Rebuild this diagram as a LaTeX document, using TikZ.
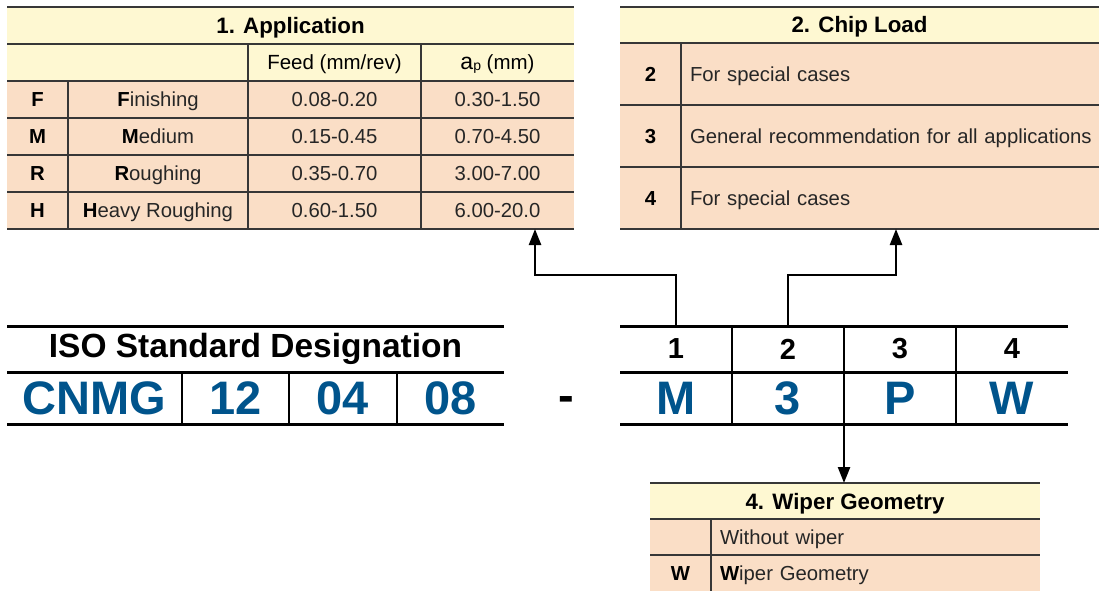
\documentclass[tikz,border=0pt]{standalone}
\usepackage{fontspec}
\setmainfont{Liberation Sans}
\usetikzlibrary{positioning,arrows.meta}
\definecolor{headyellow}{RGB}{254,248,210}
\definecolor{bodypeach}{RGB}{250,222,198}
\definecolor{isoblue}{RGB}{0,84,140}
\definecolor{rulegray}{RGB}{55,55,55}

\begin{document}
\begin{tikzpicture}[
	x=1pt, y=-1pt,
	every node/.style={inner sep=0pt, outer sep=0pt, text=black!85},
	headcell/.style={fill=headyellow, minimum height=37pt, text height=16pt, text depth=0pt, font=\fontsize{22.3}{22.3}\selectfont\bfseries, text=black},
	bodycell/.style={fill=bodypeach, minimum height=37pt, text height=14.6pt, text depth=0pt, font=\fontsize{20.3}{20.3}\selectfont},
	codecell/.style={bodycell, minimum width=61pt, font=\fontsize{20.3}{20.3}\selectfont\bfseries, text=black},
	textcell/.style={bodycell, align=left, inner xsep=9pt, text width=#1},
	gridline/.style={draw=rulegray, line width=1.3pt},
	isohead/.style={minimum height=46pt, font=\fontsize{29}{29}\selectfont\bfseries, text=black},
	isocell/.style={minimum height=52pt, font=\fontsize{47}{47}\selectfont\bfseries, text=isoblue},
	isoline/.style={line width=3pt},
	isodivider/.style={line width=2pt},
	conn/.style={line width=2.4pt, -{Triangle[length=16pt, width=12pt]}}
	]
	\useasboundingbox (0,0) rectangle (1099,591);
	
	\node[headcell, minimum width=567pt, anchor=north west] (apptitle) at (7,7) {1. Application};
	\node[headcell, minimum width=241pt, anchor=north west] (appblank) at (7,44) {};
	\node[headcell, minimum width=173pt, right=0pt of appblank, font=\fontsize{20.5}{20.5}\selectfont, text height=14.7pt] (appfeed) {Feed (mm/rev)};
	\node[headcell, minimum width=153pt, right=0pt of appfeed, font=\fontsize{20.5}{20.5}\selectfont, text height=14.7pt] (appdepth) {{\fontsize{23}{23}\selectfont a}\raisebox{-1pt}{\fontsize{14}{14}\selectfont p} (mm)};
	\foreach \code/\rest/\feed/\depth [count=\i from 0] in {F/inishing/0.08-0.20/0.30-1.50, M/edium/0.15-0.45/0.70-4.50, R/oughing/0.35-0.70/3.00-7.00, H/eavy Roughing/0.60-1.50/6.00-20.0}{
		\node[codecell, anchor=north west] (code\code) at (7,{81+37*\i}) {\code};
		\node[bodycell, minimum width=180pt, right=0pt of code\code] (name\code) {\textbf{\color{black}\code}\rest};
		\node[bodycell, minimum width=173pt, right=0pt of name\code] (feed\code) {\feed};
		\node[bodycell, minimum width=153pt, right=0pt of feed\code] (depth\code) {\depth};
	}
	\draw[gridline] (apptitle.north west) -- (apptitle.north east);
	\draw[gridline] (apptitle.south west) -- (apptitle.south east);
	\draw[gridline] (appblank.south west) -- (appdepth.south east);
	\foreach \c in {F,M,R,H}
		\draw[gridline] (code\c.south west) -- (depth\c.south east);
	\draw[gridline] (codeF.north east) -- (codeH.south east);
	\draw[gridline] (appfeed.north west) -- (feedH.south west);
	\draw[gridline] (appdepth.north west) -- (depthH.south west);
	
	\node[headcell, minimum width=479pt, minimum height=36pt, anchor=north west] (chiptitle) at (620,7) {2. Chip Load};
	\foreach \c/\txt [count=\i from 0] in {2/For special cases, 3/General recommendation for all applications, 4/For special cases}{
		\node[codecell, minimum height=62pt, anchor=north west] (chip\c) at (620,{43+62*\i}) {\c};
		\node[textcell=400pt, minimum height=62pt, right=0pt of chip\c] (chiptext\c) {\mbox{\txt}};
	}
	\draw[gridline] (chiptitle.north west) -- (chiptitle.north east);
	\draw[gridline] (chiptitle.south west) -- (chiptitle.south east);
	\foreach \c in {2,3,4}
		\draw[gridline] (chip\c.south west) -- (chiptext\c.south east);
	\draw[gridline] (chip2.north east) -- (chip4.south east);
	
	\node[headcell, minimum width=390pt, minimum height=36pt, anchor=north west] (wipertitle) at (650,483) {4. Wiper Geometry};
	\node[codecell, minimum height=36pt, anchor=north west] (wiperblank) at (650,519) {};
	\node[textcell=311pt, minimum height=36pt, right=0pt of wiperblank] (wipernone) {Without wiper};
	\node[codecell, minimum height=36pt, below=0pt of wiperblank] (wiperW) {W};
	\node[textcell=311pt, minimum height=36pt, right=0pt of wiperW] (wiperyes) {\textbf{\color{black}W}iper Geometry};
	\draw[gridline] (wipertitle.north west) -- (wipertitle.north east);
	\draw[gridline] (wipertitle.south west) -- (wipertitle.south east);
	\draw[gridline] (wiperblank.south west) -- (wipernone.south east);
	\draw[gridline] (wiperblank.north east) -- (wiperW.south east);
	
	\node[isohead, minimum width=497pt, anchor=north west, font=\fontsize{33.5}{33.5}\selectfont\bfseries] (isotitle) at (7,326) {ISO Standard Designation};
	\node[isocell, minimum width=175pt, anchor=north west] (isoshape) at (7,372) {CNMG};
	\node[isocell, minimum width=107pt, right=0pt of isoshape] (isosize) {12};
	\node[isocell, minimum width=108pt, right=0pt of isosize] (isothick) {04};
	\node[isocell, minimum width=107pt, right=0pt of isothick] (isoradius) {08};
	\node[font=\fontsize{47}{47}\selectfont\bfseries, text=black, anchor=base] (isodash) at (566,411) {-};
	\draw[isoline] (isotitle.north west) -- (isotitle.north east);
	\draw[isoline] (isoshape.north west) -- (isoradius.north east);
	\draw[isoline] (isoshape.south west) -- (isoradius.south east);
	\draw[isodivider] (isoshape.north east) -- (isoshape.south east);
	\draw[isodivider] (isosize.north east) -- (isosize.south east);
	\draw[isodivider] (isothick.north east) -- (isothick.south east);
	
	\foreach \n/\c [count=\i from 0] in {1/M, 2/3, 3/P, 4/W}{
		\node[isohead, minimum width=112pt, anchor=north west] (pos\n) at ({620+112*\i},326) {\n};
		\node[isocell, minimum width=112pt, below=0pt of pos\n] (val\n) {\c};
	}
	\draw[isoline] (pos1.north west) -- (pos4.north east);
	\draw[isoline] (val1.north west) -- (val4.north east);
	\draw[isoline] (val1.south west) -- (val4.south east);
	\foreach \n in {1,2,3}
		\draw[isodivider] (pos\n.north east) -- (val\n.south east);
	
	\coordinate (appin) at (535,229);
	\coordinate (chipin) at (896,229);
	\draw[conn] (pos1.north) -- ++(0,-51) -| (appin);
	\draw[conn] (pos2.north) -- ++(0,-51) -| (chipin);
	\draw[conn] (val3.south west) -- (val3.south west |- wipertitle.north);
\end{tikzpicture}
\end{document}
